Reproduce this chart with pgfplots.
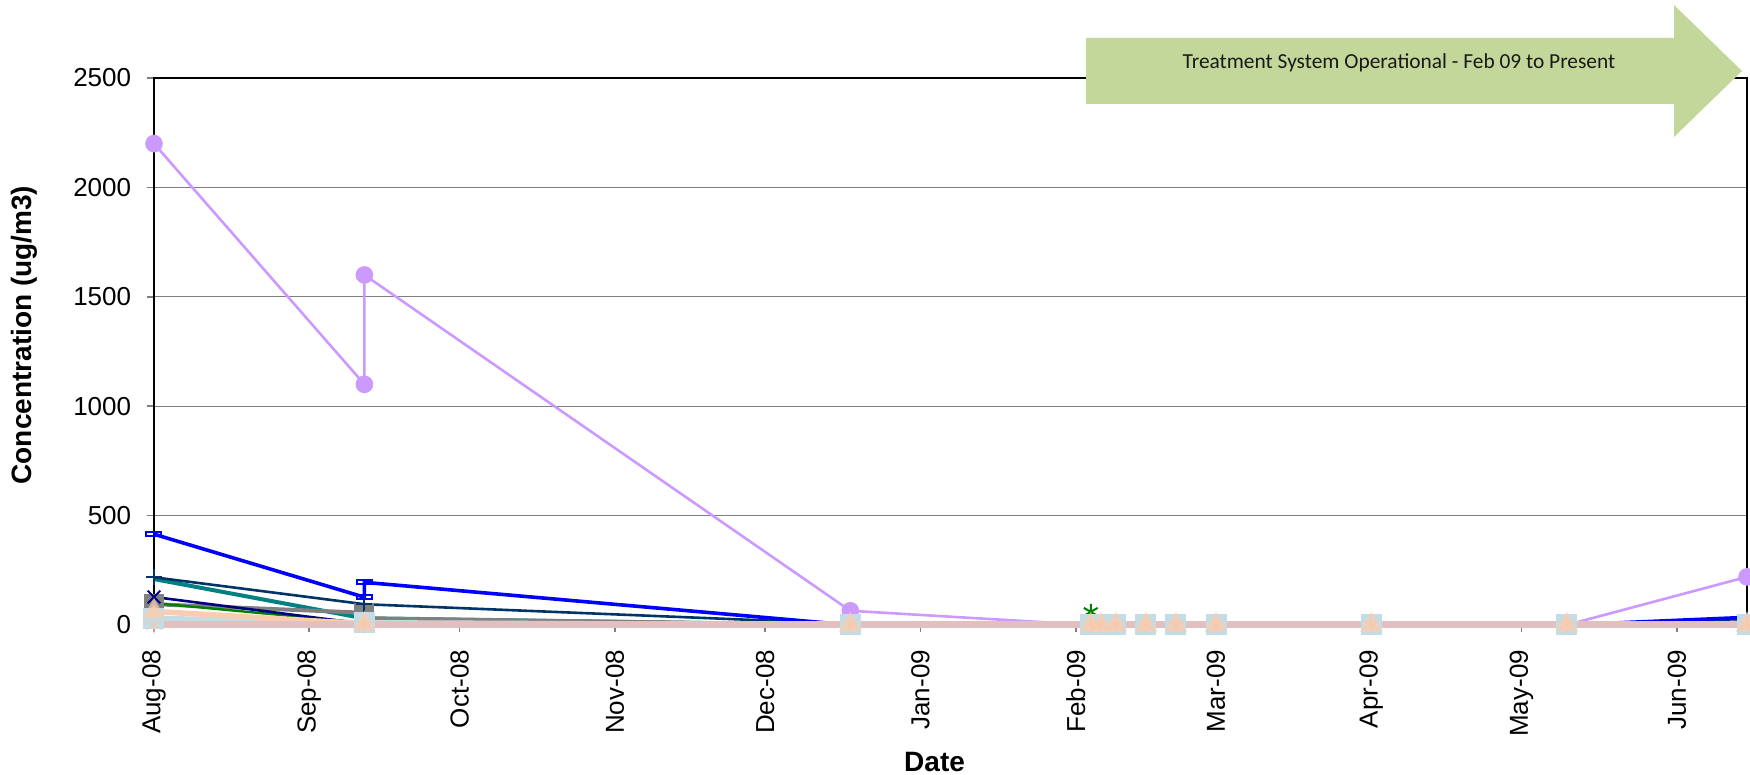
\documentclass[border=0pt]{standalone}
\usepackage{pgfplots}
\pgfplotsset{compat=1.18}
\usepackage{fontspec}
\setmainfont{Liberation Sans}
\newfontfamily\calibri{Carlito}
\definecolor{cpurple}{HTML}{CC99FF}
\definecolor{cblue}{HTML}{0000FF}
\definecolor{cdark}{HTML}{003366}
\definecolor{cteal}{HTML}{008080}
\definecolor{cnavy}{HTML}{000080}
\definecolor{cgreen}{HTML}{008000}
\definecolor{cgray}{HTML}{808080}
\definecolor{cpeach}{HTML}{FBCDB0}
\definecolor{clblue}{HTML}{C3DDE6}
\definecolor{cpink}{HTML}{E2C0C0}
\definecolor{cstar}{HTML}{F8C8AC}
\definecolor{carrow}{HTML}{C4D79B}
\definecolor{gridc}{HTML}{7F7F7F}
\begin{document}
\begin{tikzpicture}
\useasboundingbox (-77pt,-75pt) rectangle (798pt,312.5pt);
\begin{axis}[
  at={(0,0)}, anchor=south west,
  scale only axis, width=796.5pt, height=273.5pt,
  xmin=0, xmax=318, ymin=0, ymax=2500,
  xtick={0,31,61,92,122,153,184,212,243,273,304},
  xticklabels={Aug-08,Sep-08,Oct-08,Nov-08,Dec-08,Jan-09,Feb-09,Mar-09,Apr-09,May-09,Jun-09},
  ytick={0,500,1000,1500,2000,2500},
  xtick pos=bottom, ytick pos=left,
  ymajorgrids,
  grid style={draw=gridc, line width=0.6pt},
  axis line style={line width=1.2pt, black},
  tick align=outside,
  major tick length=3.5pt,
  xtick style={draw=gray, line width=0.8pt},
  ytick style={draw=gridc, line width=0.8pt},
  /pgf/number format/assume math mode=true,
  /pgf/number format/1000 sep={},
  scaled y ticks=false,
  tick label style={font=\fontsize{13}{15}\selectfont},
  x tick label style={rotate=90, anchor=east},
  xticklabel shift=5.5pt,
  yticklabel shift=4.4pt,
  xlabel={Date}, ylabel={Concentration (ug/m3)},
  label style={font=\fontsize{14}{16}\selectfont\bfseries},
  xlabel style={at={(axis description cs:0.49,-0.2505)}, anchor=center},
  ylabel style={at={(axis description cs:-0.0813,0.53)}, anchor=center},
  clip=false,
]
% teal
\addplot[cteal, line width=2pt, mark=none] coordinates {(0,210)(42,30)(139,0)(187,0)(189,0)(192,0)(198,0)(204,0)(212,0)(243,0)(282,0)(318,0)};
% gray
\addplot[cgray, line width=2pt, mark=square*, mark size=4pt] coordinates {(0,95)(42,56)(42,31)(139,0)(187,0)(189,0)(192,0)(198,0)(204,0)(212,0)(243,0)(282,0)(318,0)};
% green
\addplot[cgreen, line width=1.2pt, mark=none] coordinates {(0,100)(42,10)(139,0)(187,0)(189,0)(192,0)(198,0)(204,0)(212,0)(243,0)(282,0)(318,15)};
\addplot[cgreen, only marks, mark=asterisk, mark size=4pt, mark options={line width=1pt}] coordinates {(187,60)};
% navy
\addplot[cnavy, line width=1.3pt, mark=x, mark size=4.5pt, mark options={line width=1pt}] coordinates {(0,128)(42,5)(139,0)(187,0)(189,0)(192,0)(198,0)(204,0)(212,0)(243,0)(282,0)(318,10)};
% dark blue
\addplot[cdark, line width=1.3pt, mark=+, mark size=4pt, mark options={line width=1pt}] coordinates {(0,218)(42,95)(139,5)(187,0)(189,0)(192,0)(198,0)(204,0)(212,0)(243,0)(282,0)(318,28)};
% blue
\addplot[cblue, line width=1.8pt, mark=square, mark size=3pt, mark options={xscale=1.25, yscale=0.35, line width=1pt}] coordinates {(0,415)(42,127)(42,195)(139,0)(187,0)(189,0)(192,0)(198,0)(204,0)(212,0)(243,0)(282,0)(318,35)};
% purple
\addplot[cpurple, line width=1.3pt, mark=*, mark size=3.75pt] coordinates {(0,2200)(42,1100)(42,1600)(139,65)(187,0)(189,0)(192,0)(198,0)(204,0)(212,0)(243,0)(282,0)(318,220)};
% light blue squares
\addplot[clblue, line width=2.8pt, mark=square*, mark size=5pt, mark options={line width=0.5pt, rounded corners=1pt}] coordinates {(0,30)(42,10)(139,0)(187,0)(189,0)(192,0)(198,0)(204,0)(212,0)(243,0)(282,0)(318,0)};
% peach triangles
\addplot[cpeach, line width=2.8pt, mark=triangle*, mark size=3.8pt, mark options={opacity=0.7}] coordinates {(0,62)(42,5)(139,0)(187,0)(189,0)(192,0)(198,0)(204,0)(212,0)(243,0)(282,0)(318,0)};
% peach asterisks
\addplot[cstar, only marks, mark=asterisk, mark size=4.5pt, mark options={line width=0.6pt, opacity=0.8}] coordinates {(0,0)(42,0)(139,0)(187,0)(189,0)(192,0)(198,0)(204,0)(212,0)(243,0)(282,0)(318,0)};
% pink baseline
\addplot[cpink, line width=3.5pt, mark=none] coordinates {(0,0)(42,0)(139,0)(187,0)(189,0)(192,0)(198,0)(204,0)(212,0)(243,0)(282,0)(318,0)};
\end{axis}
\fill[carrow] (466pt,260.5pt) -- (760pt,260.5pt) -- (760pt,244pt) -- (794pt,277pt) -- (760pt,310pt) -- (760pt,293.5pt) -- (466pt,293.5pt) -- cycle;
\node[anchor=base, inner sep=0pt, text=black!90] at (622.5pt,278.2pt) {\calibri\fontsize{10.7}{12}\selectfont Treatment System Operational - Feb 09 to Present};
\end{tikzpicture}
\end{document}
